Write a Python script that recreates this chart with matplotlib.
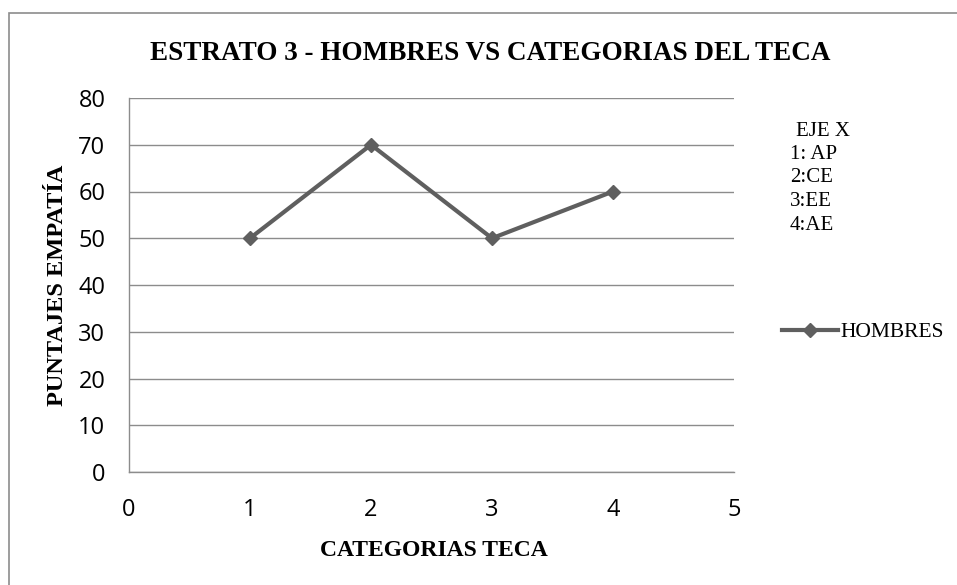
import matplotlib
matplotlib.use("Agg")
import matplotlib.pyplot as plt
from matplotlib.patches import Rectangle

categories = [1, 2, 3, 4]
hombres = [50, 70, 50, 60]
x_ticks = [0, 1, 2, 3, 4, 5]
y_ticks = [0, 10, 20, 30, 40, 50, 60, 70, 80]
eje_lines = ["EJE X", "1: AP", "2:CE", "3:EE", "4:AE"]

serif = "Liberation Serif"
sans = "Open Sans"
W, H = 957, 585

fig = plt.figure(figsize=(W/100, H/100), dpi=100)
fig.patch.set_facecolor("white")

# outer chart border
fig.patches.append(Rectangle((9/W, -0.1), 1.2, 1 - 13/H + 0.1,
                             transform=fig.transFigure, fill=False,
                             edgecolor="#8c8c8c", linewidth=1.2))

ax = fig.add_axes([129/W, 1 - 472/H, (734-129)/W, (472-98)/H])
ax.set_xlim(0, 5)
ax.set_ylim(0, 80)
ax.set_xticks(x_ticks)
ax.set_yticks(y_ticks)
ax.grid(axis="y", color="#8c8c8c", linewidth=1)
ax.set_axisbelow(True)
for s in ["top", "right"]:
    ax.spines[s].set_visible(False)
for s in ["left", "bottom"]:
    ax.spines[s].set_color("#8c8c8c")
    ax.spines[s].set_linewidth(1)
ax.tick_params(length=0, labelsize=17)
ax.tick_params(axis="x", pad=19)
ax.tick_params(axis="y", pad=17)
for lab in ax.get_xticklabels() + ax.get_yticklabels():
    lab.set_family(sans)

line, = ax.plot(categories, hombres, color="#5f5f5f", linewidth=3,
                marker="D", markersize=7.5, markerfacecolor="#5f5f5f",
                markeredgecolor="#5f5f5f", label="HOMBRES")

fig.text(490/W, 1 - 53/H, "ESTRATO 3 - HOMBRES VS CATEGORIAS DEL TECA",
         family=serif, weight="bold", fontsize=19.5, ha="center", va="center")
fig.text(58/W, 1 - 285/H, "PUNTAJES EMPATÍA", family=serif, weight="bold",
         fontsize=17.5, rotation=90, ha="center", va="center")
fig.text(434/W, 1 - 550/H, "CATEGORIAS TECA", family=serif, weight="bold",
         fontsize=17, ha="center", va="center")

ys = [131, 155, 178, 202, 225]
for i, (t, y) in enumerate(zip(eje_lines, ys)):
    x = 796 if i == 0 else 790
    fig.text(x/W, 1 - y/H, t, family=serif, fontsize=15, ha="left", va="center")

fig.legend(handles=[line], labels=["HOMBRES"], loc="center left",
           bbox_to_anchor=(782/W, 1 - 332/H), frameon=False,
           prop={"family": serif, "size": 15.5}, handlelength=2.6,
           handletextpad=0.1, borderaxespad=0, borderpad=0)

fig.savefig("out.png", dpi=100, facecolor="white")
